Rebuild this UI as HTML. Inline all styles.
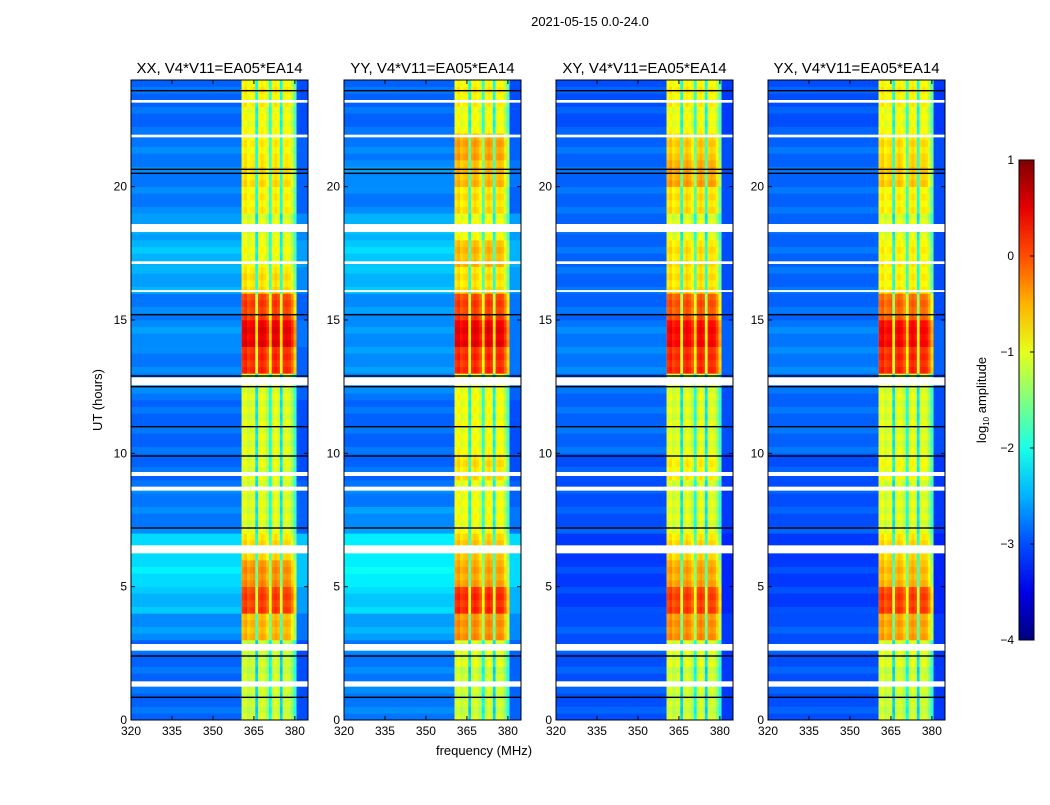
<!DOCTYPE html>
<html><head><meta charset="utf-8"><style>
body{margin:0;background:#fff;font-family:"Liberation Sans",sans-serif}
svg text{font-family:"Liberation Sans",sans-serif}
</style></head><body>
<svg id="fig" width="1050" height="800">
<rect width="1050" height="800" fill="#fff"/>
<text x="590" y="26" font-size="13" text-anchor="middle">2021-05-15 0.0-24.0</text>
<text x="484" y="755" font-size="13" text-anchor="middle">frequency (MHz)</text>
<text transform="translate(102,400) rotate(-90)" font-size="13" text-anchor="middle">UT (hours)</text>
<g id="panels"></g>
<g id="cbar"></g>
</svg>
<script>
// ---- data ----
const panelTitles = ["XX, V4*V11=EA05*EA14","YY, V4*V11=EA05*EA14","XY, V4*V11=EA05*EA14","YX, V4*V11=EA05*EA14"];
// background log10 amplitude per hour (0..23)
const bgXX = [-2.9,-2.9,-2.9,-2.7,-2.5,-2.3,-2.3,-2.8,-2.8,-2.9,-2.9,-2.9,-2.8,-2.8,-2.7,-2.8,-2.6,-2.5,-2.6,-2.8,-2.8,-2.8,-2.9,-2.9];
const bgYY = [-2.8,-2.8,-2.8,-2.6,-2.4,-2.2,-2.2,-2.7,-2.8,-2.9,-2.9,-2.9,-2.8,-2.7,-2.7,-2.7,-2.5,-2.4,-2.5,-2.8,-2.7,-2.8,-2.9,-2.9];
const bgXY = [-3.0,-3.0,-3.0,-3.0,-3.1,-3.1,-3.1,-3.0,-3.0,-3.0,-2.9,-2.9,-2.9,-2.8,-2.8,-2.9,-2.9,-2.9,-2.9,-2.9,-2.9,-2.9,-3.0,-3.0];
const bgYX = [-3.0,-3.0,-3.0,-3.0,-3.1,-3.1,-3.1,-3.0,-3.0,-3.0,-2.9,-2.9,-2.9,-2.8,-2.8,-2.9,-2.9,-2.9,-2.9,-2.9,-2.9,-2.9,-3.0,-3.0];
// RFI band level per hour
const bandXX = [-1.1,-1.1,-1.1,-0.5,0.1,-0.3,-0.7,-1.0,-1.0,-1.0,-1.0,-1.0,-1.0,0.2,0.5,0.1,-0.7,-0.9,-1.0,-0.8,-0.7,-0.8,-0.9,-0.8];
const bandYY = [-1.1,-1.1,-1.0,-0.3,0.2,-0.4,-0.6,-0.9,-0.9,-0.7,-0.9,-0.9,-0.9,0.2,0.5,0.1,-0.7,-0.5,-0.9,-0.7,-0.5,-0.4,-0.9,-0.8];
const bandXY = [-1.1,-1.1,-1.0,-0.3,0.1,-0.4,-0.7,-1.0,-1.0,-0.8,-1.0,-1.0,-1.0,0.2,0.4,0.0,-0.7,-0.7,-1.0,-0.7,-0.4,-0.6,-0.9,-0.8];
const bandYX = [-1.1,-1.1,-1.0,-0.4,0.1,-0.5,-0.7,-1.0,-1.0,-0.9,-1.0,-1.0,-1.0,0.2,0.4,-0.1,-0.8,-0.8,-1.0,-0.8,-0.6,-0.7,-0.9,-0.8];
const bgSeries = [bgXX,bgYY,bgXY,bgYX];
const bandSeries = [bandXX,bandYY,bandXY,bandYX];
// band frequency offset per MHz, 361..380
const bandFreqs = [361,362,363,364,365,366,367,368,369,370,371,372,373,374,375,376,377,378,379,380];
const bandOffset = [0,0.1,-0.1,0,0.05,-1.2,0,0.1,0,-0.2,-1.0,0,0.1,0,-1.2,0,0.05,0,-0.3,-0.8];
// flagged time ranges [start,end] hours
const whiteGaps = [[1.25,1.45],[2.6,2.85],[6.25,6.55],[8.6,8.75],[9.15,9.3],[12.55,12.85],[18.3,18.6],[21.85,21.95],[23.15,23.25],[16.05,16.12],[17.1,17.2]];
const blackLines = [0.85,2.4,7.2,9.9,11.0,12.5,12.9,15.2,20.5,20.65,23.6];
const xTicks = [320,335,350,365,380];
const yTicks = [0,5,10,15,20];
const cbTicks = [1,0,-1,-2,-3,-4];
const cbLabels = ["1","0","\u22121","\u22122","\u22123","\u22124"];

// ---- layout ----
const NS="http://www.w3.org/2000/svg";
const panelX=[131,344,556,768], pw=177, py=80, ph=640;
const fMin=320, fMax=384.8, tMin=0, tMax=24;
function jet(v){let t=(v+4)/5;t=Math.max(0,Math.min(1,t));
 const c=x=>Math.round(255*Math.max(0,Math.min(1,x)));
 return `rgb(${c(1.5-Math.abs(4*t-3))},${c(1.5-Math.abs(4*t-2))},${c(1.5-Math.abs(4*t-1))})`;}
function mk(tag,attrs,parent){const e=document.createElementNS(NS,tag);for(const k in attrs)e.setAttribute(k,attrs[k]);parent.appendChild(e);return e;}
const root=document.getElementById('panels');
panelTitles.forEach((title,p)=>{
 const x0=panelX[p];
 const xs=f=>x0+(f-fMin)/(fMax-fMin)*pw;
 const ys=t=>py+ph-(t-tMin)/(tMax-tMin)*ph;
 const g=mk('g',{},root);
 
 
 const hm=mk('g',{},g);
 
 
 const bg=bgSeries[p], band=bandSeries[p];
 const dt=0.25;
 for(let t=0;t<24;t+=dt){
  const h=Math.floor(t);
  const r=mk('rect',{x:xs(fMin),y:ys(t+dt),width:xs(360.5)-xs(fMin),height:ys(t)-ys(t+dt)+0.3,fill:jet(bg[h]+((t*4)%3===1?0.12:0))},hm);
  
  
  const r2=mk('rect',{x:xs(380.5),y:ys(t+dt),width:xs(fMax)-xs(380.5),height:ys(t)-ys(t+dt)+0.3,fill:jet(bg[h]-0.1)},hm);
  
  
  bandFreqs.forEach((f,i)=>{
   const v=band[h]+bandOffset[i]+((t*4)%2===1?-0.1:0);
   const c=mk('rect',{x:xs(f-0.5),y:ys(t+dt),width:xs(f+0.5)-xs(f-0.5)+0.3,height:ys(t)-ys(t+dt)+0.3,fill:jet(v)},hm);
   
   
  });
 }
 whiteGaps.forEach(([a,b])=>{const w=mk('rect',{x:x0,y:ys(b),width:pw,height:Math.max(1.5,ys(a)-ys(b)),fill:'#fff'},hm);
  
  });
 blackLines.forEach(t=>{const l=mk('rect',{x:x0,y:ys(t)-0.7,width:pw,height:1.4,fill:'#000'},hm);
  
  });
 const fr=mk('rect',{x:x0,y:py,width:pw,height:ph,fill:'none',stroke:'#000','stroke-width':1},g);
 
 
 const tt=mk('text',{x:x0+pw/2,y:73,'font-size':15,'text-anchor':'middle'},g);tt.textContent=title;
 
 
 xTicks.forEach(f=>{mk('line',{x1:xs(f),x2:xs(f),y1:py+ph,y2:py+ph-4,stroke:'#000'},g);mk('line',{x1:xs(f),x2:xs(f),y1:py,y2:py+4,stroke:'#000'},g);
  const lb=mk('text',{x:xs(f),y:py+ph+15,'font-size':12,'text-anchor':'middle'},g);lb.textContent=f;
  
  });
 yTicks.forEach(t=>{mk('line',{x1:x0,x2:x0+4,y1:ys(t),y2:ys(t),stroke:'#000'},g);mk('line',{x1:x0+pw,x2:x0+pw-4,y1:ys(t),y2:ys(t),stroke:'#000'},g);
  const lb=mk('text',{x:x0-4,y:ys(t)+4,'font-size':12,'text-anchor':'end'},g);lb.textContent=t;
  
  });
});
// colorbar
const cb=document.getElementById('cbar');
const cbx=1019,cbw=15,cby=160,cbh=480;
const cys=v=>cby+(1-v)/5*cbh;
const grad=mk('defs',{},cb);const lg=mk('linearGradient',{id:'jetg',x1:0,y1:1,x2:0,y2:0},grad);
for(let i=0;i<=10;i++){const v=-4+i*0.5;mk('stop',{offset:i/10,'stop-color':jet(v)},lg);}
const cbr=mk('rect',{x:cbx,y:cby,width:cbw,height:cbh,fill:'url(#jetg)',stroke:'#000','stroke-width':1},cb);


cbTicks.forEach((v,i)=>{mk('line',{x1:cbx+cbw-4,x2:cbx+cbw,y1:cys(v),y2:cys(v),stroke:'#000'},cb);
 const lb=mk('text',{x:cbx-5,y:cys(v)+4,'font-size':12,'text-anchor':'end'},cb);lb.textContent=cbLabels[i];
 
 });
const cl=mk('text',{transform:'translate(986,400) rotate(-90)','font-size':13,'text-anchor':'middle'},cb);
cl.innerHTML='log<tspan font-size="8" dy="3">10</tspan><tspan dy="-3"> amplitude</tspan>';


</script>
</body></html>
